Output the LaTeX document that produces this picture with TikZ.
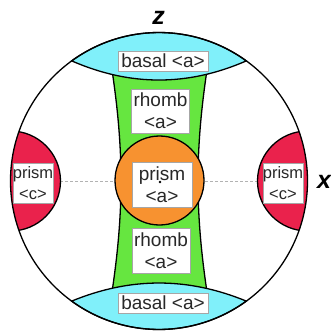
\documentclass[tikz,border=0pt]{standalone}
\usepackage{fontspec}
\setmainfont{Liberation Sans}
\definecolor{lenscyan}{RGB}{128,240,250}
\definecolor{rhgreen}{RGB}{102,230,64}
\definecolor{prred}{RGB}{234,34,76}
\definecolor{prorange}{RGB}{247,146,48}
\definecolor{txtgray}{RGB}{40,40,40}
\tikzset{
  outline/.style={draw=black, line width=1.3pt},
  lbl/.style={draw=gray!70, line width=0.6pt, fill=white, inner sep=0pt, text=txtgray, align=center,
    font=\fontsize{19}{22}\selectfont},
  sidelbl/.style={lbl, font=\fontsize{16.5}{21}\selectfont},
  axislbl/.style={font=\fontsize{25}{25}\selectfont\bfseries\itshape, inner sep=0pt}
}
\begin{document}
\begin{tikzpicture}[x=1pt,y=1pt]
\useasboundingbox (0,0) rectangle (330,-331);
\coordinate (C) at (159,-181);
% big circle interior
\fill[white] (C) circle[radius=148.5];
% dashed axis
\coordinate (dl) at (20,-181);
\coordinate (dr) at (300,-181);
\draw[gray!60, line width=0.8pt, dash pattern=on 3pt off 2pt] (dl) -- (dr);
% green hourglass
\filldraw[fill=rhgreen, outline] (112,-70) .. controls (124,-150) and (124,-212) .. (112,-292)
  -- (207,-292) .. controls (195,-212) and (195,-150) .. (207,-70) -- cycle;
% cyan lenses
\filldraw[fill=lenscyan, outline] (71.7,-60.9) arc[start angle=126, end angle=54, radius=148.5]
  .. controls (187.8,-86.4) and (130.2,-86.4) .. (71.7,-60.9) -- cycle;
\filldraw[fill=lenscyan, outline] (71.7,-301.1) arc[start angle=234, end angle=306, radius=148.5]
  .. controls (187.8,-277) and (130.2,-277) .. (71.7,-301.1) -- cycle;
% red lenses
\begin{scope}
  \clip (C) circle[radius=148.5];
  \filldraw[fill=prred, outline] (10.5,-181) circle[radius=50];
  \filldraw[fill=prred, outline] (307.5,-181) circle[radius=50];
\end{scope}
% orange circle
\filldraw[fill=prorange, outline] (159.5,-180.5) circle[radius=44.5];
% big circle outline
\draw[outline] (C) circle[radius=148.5];
% labels
\node[lbl, minimum width=90pt, minimum height=20pt] (basalT) at (163,-61) {basal <a>};
\node[lbl, minimum width=58pt, minimum height=44pt] (rhombT) at (160.5,-111) {rhomb\\<a>};
\node[lbl, minimum width=60pt, minimum height=45pt] (prismC) at (162,-184.5) {prism\\<a>};
\node[lbl, minimum width=58pt, minimum height=45pt] (rhombB) at (161,-250.5) {rhomb\\<a>};
\node[lbl, minimum width=90pt, minimum height=20pt] (basalB) at (163,-303) {basal <a>};
\node[sidelbl, minimum width=40pt, minimum height=40pt] (prismL) at (33,-183) {prism\\<c>};
\node[sidelbl, minimum width=40pt, minimum height=40pt] (prismR) at (283,-183) {prism\\<c>};
\fill[black] (160,-182) circle[radius=1.3];
\node[axislbl, anchor=base] (z) at (158.5,-25) {z};
\node[axislbl, anchor=base west] (x) at (317,-188) {x};
\end{tikzpicture}
\end{document}
